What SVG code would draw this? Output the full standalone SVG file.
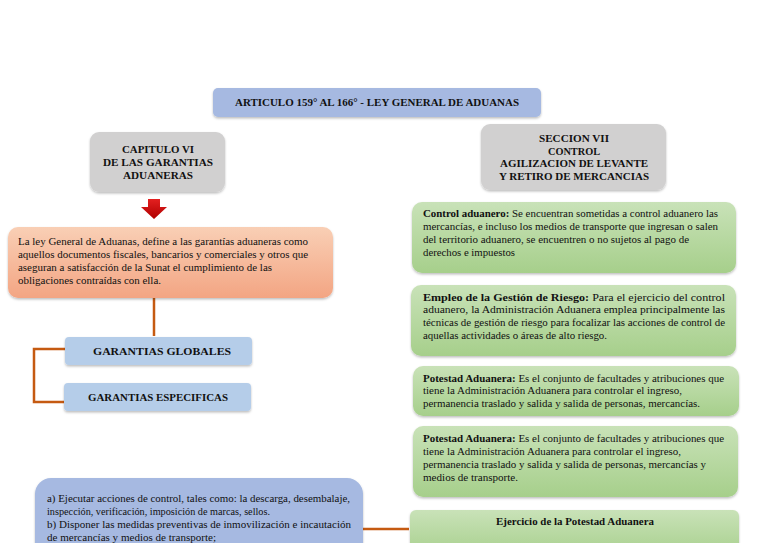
<svg xmlns="http://www.w3.org/2000/svg" width="768" height="543" viewBox="0 0 768 543">
<defs>
<linearGradient id="gGreen" x1="0" y1="0" x2="0" y2="1"><stop offset="0" stop-color="#c9e2b8"/><stop offset="1" stop-color="#a6cf8b"/></linearGradient>
<linearGradient id="gSalmon" x1="0" y1="0" x2="0" y2="1"><stop offset="0" stop-color="#f9cfb5"/><stop offset="1" stop-color="#f3a583"/></linearGradient>
<linearGradient id="gRed" x1="0" y1="0" x2="0" y2="1"><stop offset="0" stop-color="#e32020"/><stop offset="1" stop-color="#b00000"/></linearGradient>
<filter id="sh" x="-5%" y="-10%" width="110%" height="130%"><feDropShadow dx="0" dy="1.5" stdDeviation="1.2" flood-color="#000" flood-opacity="0.25"/></filter>
<style>
text{font-family:"Liberation Serif","Times New Roman",serif;fill:#111;}
.b{font-weight:bold;}
.t{font-size:10px;}
.h{font-size:10.5px;font-weight:bold;text-anchor:middle;}
.conn{stroke:#c55a11;stroke-width:2.5;fill:none;}
.blue{fill:#a6b9e1;}
.lblue{fill:#b5cde9;}
.gray{fill:#d1d0d0;}
.green{fill:url(#gGreen);}
</style>
</defs>
<rect width="768" height="543" fill="#ffffff"/>
<g id="connectors">
<path class="conn" d="M154 298 V336"/>
<path class="conn" d="M65 349 H34 V402 H64"/>
<path class="conn" d="M363 529 H409"/>
</g>
<g id="title">
<rect class="blue" x="213" y="88" width="328" height="29" rx="5" filter="url(#sh)"/>
<text class="h" x="377" y="106" textLength="284" lengthAdjust="spacingAndGlyphs">ARTICULO 159° AL 166° - LEY GENERAL DE ADUANAS</text>
</g>
<g id="capitulo">
<rect class="gray" x="90" y="132" width="135" height="60" rx="9" filter="url(#sh)"/>
<text class="h" x="158" y="153" textLength="72" lengthAdjust="spacingAndGlyphs">CAPITULO VI</text>
<text class="h" x="158" y="166" textLength="110" lengthAdjust="spacingAndGlyphs">DE LAS GARANTIAS</text>
<text class="h" x="158" y="179" textLength="70" lengthAdjust="spacingAndGlyphs">ADUANERAS</text>
</g>
<g id="seccion">
<rect class="gray" x="481" y="124" width="185" height="66" rx="9" filter="url(#sh)"/>
<text class="h" x="574" y="142" textLength="70" lengthAdjust="spacingAndGlyphs">SECCION VII</text>
<text class="h" x="574" y="155" textLength="52" lengthAdjust="spacingAndGlyphs">CONTROL</text>
<text class="h" x="574" y="167" textLength="148" lengthAdjust="spacingAndGlyphs">AGILIZACION DE LEVANTE</text>
<text class="h" x="574" y="180" textLength="150" lengthAdjust="spacingAndGlyphs">Y RETIRO DE MERCANCIAS</text>
</g>
<g id="arrow">
<path d="M148 199 H160 V207 H167 L154 219 L141 207 H148 Z" fill="url(#gRed)"/>
</g>
<g id="definicion">
<rect x="8" y="227" width="325" height="71" rx="10" fill="url(#gSalmon)" filter="url(#sh)"/>
<text class="t" x="18" y="245" textLength="290" lengthAdjust="spacingAndGlyphs">La ley General de Aduanas, define a las garantías aduaneras como</text>
<text class="t" x="18" y="258" textLength="290" lengthAdjust="spacingAndGlyphs">aquellos documentos fiscales, bancarios y comerciales y otros que</text>
<text class="t" x="18" y="271" textLength="254" lengthAdjust="spacingAndGlyphs">aseguran a satisfacción de la Sunat el cumplimiento de las</text>
<text class="t" x="18" y="284" textLength="143" lengthAdjust="spacingAndGlyphs">obligaciones contraídas con ella.</text>
</g>
<g id="globales">
<rect class="lblue" x="65" y="337" width="187" height="28" rx="4" filter="url(#sh)"/>
<text class="h" x="162" y="355" textLength="138" lengthAdjust="spacingAndGlyphs">GARANTIAS GLOBALES</text>
</g>
<g id="especificas">
<rect class="lblue" x="64" y="383" width="187" height="28" rx="4" filter="url(#sh)"/>
<text class="h" x="158" y="401" textLength="140" lengthAdjust="spacingAndGlyphs">GARANTIAS ESPECIFICAS</text>
</g>
<g id="control">
<rect class="green" x="412" y="202" width="324" height="71" rx="10" filter="url(#sh)"/>
<text class="t" x="423" y="217" textLength="295" lengthAdjust="spacingAndGlyphs"><tspan class="b">Control aduanero:</tspan> Se encuentran sometidas a control aduanero las</text>
<text class="t" x="423" y="230" textLength="295" lengthAdjust="spacingAndGlyphs">mercancías, e incluso los medios de transporte que ingresan o salen</text>
<text class="t" x="423" y="243" textLength="266" lengthAdjust="spacingAndGlyphs">del territorio aduanero, se encuentren o no sujetos al pago de</text>
<text class="t" x="423" y="256" textLength="92" lengthAdjust="spacingAndGlyphs">derechos e impuestos</text>
</g>
<g id="riesgo">
<rect class="green" x="411" y="285" width="325" height="71" rx="10" filter="url(#sh)"/>
<text class="t" x="423" y="301" textLength="302" lengthAdjust="spacingAndGlyphs"><tspan class="b">Empleo de la Gestión de  Riesgo:</tspan> Para  el ejercicio del control</text>
<text class="t" x="423" y="313" textLength="302" lengthAdjust="spacingAndGlyphs">aduanero, la Administración Aduanera emplea  principalmente las</text>
<text class="t" x="423" y="326" textLength="302" lengthAdjust="spacingAndGlyphs">técnicas de gestión de riesgo para focalizar las acciones de control de</text>
<text class="t" x="423" y="339" textLength="184" lengthAdjust="spacingAndGlyphs">aquellas actividades o áreas de alto riesgo.</text>
</g>
<g id="potestad1">
<rect class="green" x="413" y="366" width="326" height="50" rx="10" filter="url(#sh)"/>
<text class="t" x="423" y="382" textLength="301" lengthAdjust="spacingAndGlyphs"><tspan class="b">Potestad Aduanera:</tspan> Es el conjunto de facultades y atribuciones que</text>
<text class="t" x="423" y="394" textLength="259" lengthAdjust="spacingAndGlyphs">tiene la Administración Aduanera para controlar el ingreso,</text>
<text class="t" x="423" y="407" textLength="277" lengthAdjust="spacingAndGlyphs">permanencia traslado y salida y salida de personas, mercancías.</text>
</g>
<g id="potestad2">
<rect class="green" x="413" y="426" width="325" height="71" rx="10" filter="url(#sh)"/>
<text class="t" x="423" y="442" textLength="301" lengthAdjust="spacingAndGlyphs"><tspan class="b">Potestad Aduanera:</tspan> Es el conjunto de facultades y atribuciones que</text>
<text class="t" x="423" y="455" textLength="258" lengthAdjust="spacingAndGlyphs">tiene la Administración Aduanera para controlar el ingreso,</text>
<text class="t" x="423" y="468" textLength="283" lengthAdjust="spacingAndGlyphs">permanencia traslado y salida y salida de personas, mercancías y</text>
<text class="t" x="423" y="481" textLength="95" lengthAdjust="spacingAndGlyphs">medios de transporte.</text>
</g>
<g id="ejercicio">
<rect class="green" x="410" y="510" width="329" height="48" rx="6" filter="url(#sh)"/>
<text class="h" x="575" y="525" textLength="158" lengthAdjust="spacingAndGlyphs">Ejercicio de la Potestad Aduanera</text>
</g>
<g id="acciones">
<rect class="blue" x="35" y="478" width="328" height="80" rx="16" filter="url(#sh)"/>
<text class="t" x="47" y="502" textLength="303" lengthAdjust="spacingAndGlyphs">a)  Ejecutar acciones de control, tales como: la descarga, desembalaje,</text>
<text class="t" x="47" y="515" textLength="223" lengthAdjust="spacingAndGlyphs">inspección, verificación, imposición de marcas, sellos.</text>
<text class="t" x="47" y="528" textLength="304" lengthAdjust="spacingAndGlyphs">b)  Disponer las medidas preventivas de inmovilización e incautación</text>
<text class="t" x="47" y="541" textLength="169" lengthAdjust="spacingAndGlyphs">de mercancías y medios de transporte;</text>
</g>
</svg>
